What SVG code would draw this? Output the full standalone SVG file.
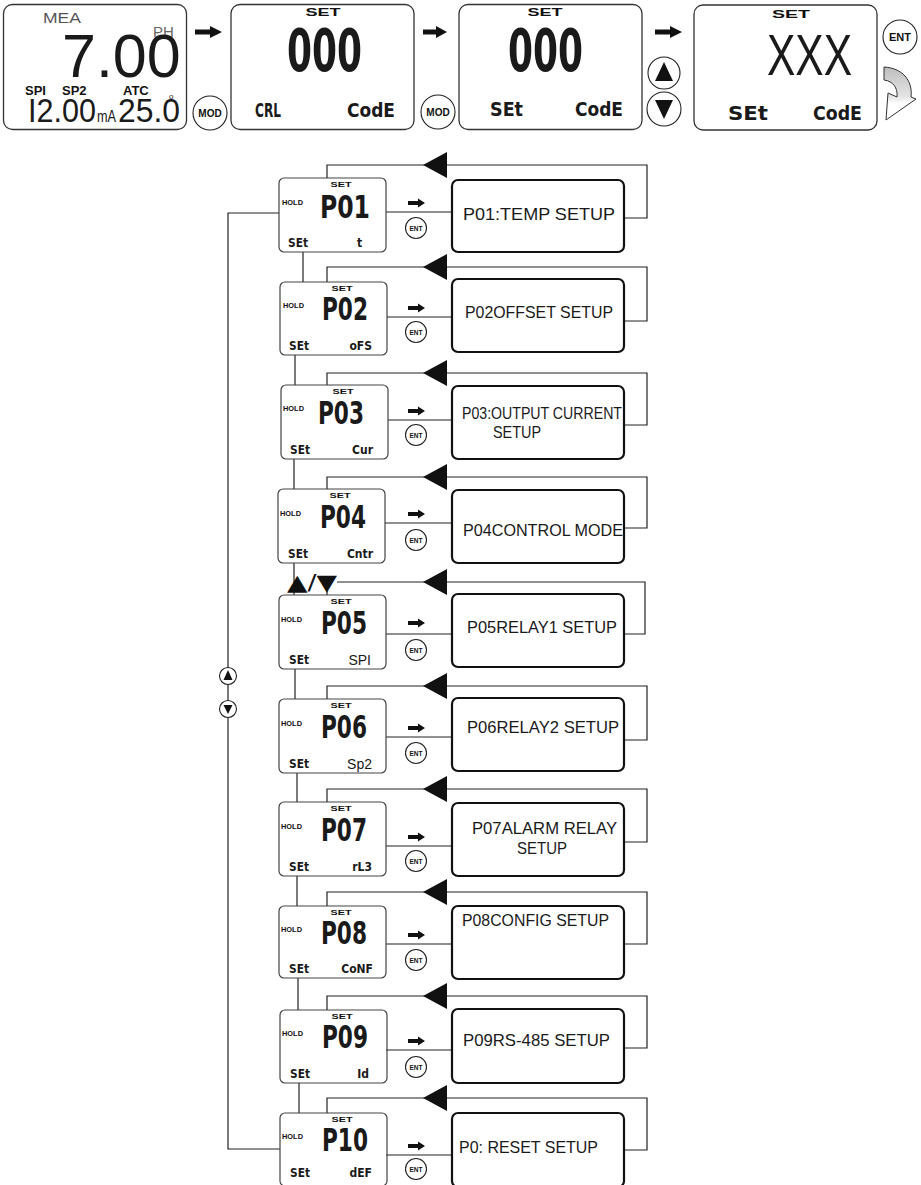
<svg xmlns="http://www.w3.org/2000/svg" width="921" height="1185" viewBox="0 0 921 1185">
<style>
.bg{fill:#fff}
.scr{fill:none;stroke:#333;stroke-width:1.3}
.lcd{fill:none;stroke:#444;stroke-width:1.2}
.box{fill:none;stroke:#111;stroke-width:2.2}
.ln{fill:none;stroke:#222;stroke-width:1.2}
.blk{fill:#111;stroke:none}
.btn{fill:#fff;stroke:#222;stroke-width:1.1}
.seg{font-family:"DejaVu Sans Condensed","DejaVu Sans",sans-serif;font-weight:bold;fill:#1a1a1a}
.sb{font-family:"Liberation Sans",Arial,sans-serif;font-weight:bold;fill:#111}
.sn{font-family:"Liberation Sans",Arial,sans-serif;fill:#1a1a1a}
.sym{font-family:"DejaVu Sans",sans-serif;fill:#111}
</style>
<defs>
<linearGradient id="cg" x1="0" y1="0" x2="0" y2="1">
<stop offset="0" stop-color="#bdbdbd"/><stop offset="0.55" stop-color="#e4e4e4"/><stop offset="0.7" stop-color="#fff"/>
</linearGradient>
</defs>
<rect class="bg" x="0" y="0" width="921" height="1185"/>

<!-- top row -->
<g id="screen-measure">
<rect class="scr" x="3.5" y="4.5" width="183" height="125" rx="9"/>
<text class="sn" x="43" y="23" font-size="15" style="fill:#555" textLength="38" lengthAdjust="spacingAndGlyphs">MEA</text>
<text class="sn" x="153" y="37" font-size="15" style="fill:#666">PH</text>
<text class="sn" x="62" y="77" font-size="61">7.00</text>
<text class="sb" x="25" y="95" font-size="13">SPI</text>
<text class="sb" x="62" y="95" font-size="13">SP2</text>
<text class="sb" x="123" y="95" font-size="13">ATC</text>
<text class="sn" x="28" y="122" font-size="34" textLength="68" lengthAdjust="spacingAndGlyphs">I2.00</text>
<text class="sn" x="97" y="122" font-size="16" textLength="19" lengthAdjust="spacingAndGlyphs">mA</text>
<text class="sn" x="118" y="122" font-size="34" textLength="62" lengthAdjust="spacingAndGlyphs">25.0</text>
<text class="sn" x="169" y="99" font-size="8">o</text>
</g>
<g id="screen-cal">
<rect class="scr" x="231" y="4.5" width="183" height="125" rx="9"/>
<text class="sb" x="323" y="16" font-size="11" text-anchor="middle" textLength="35" lengthAdjust="spacingAndGlyphs">SET</text>
<text class="seg" x="287" y="71" font-size="58" textLength="75" lengthAdjust="spacingAndGlyphs">000</text>
<text class="seg" x="255" y="117" font-size="19" textLength="26" lengthAdjust="spacingAndGlyphs">CRL</text>
<text class="seg" x="347" y="117" font-size="19" textLength="48" lengthAdjust="spacingAndGlyphs">CodE</text>
</g>
<g id="screen-set">
<rect class="scr" x="459" y="4.5" width="183" height="125" rx="9"/>
<text class="sb" x="545" y="16" font-size="11" text-anchor="middle" textLength="35" lengthAdjust="spacingAndGlyphs">SET</text>
<text class="seg" x="508" y="71" font-size="58" textLength="75" lengthAdjust="spacingAndGlyphs">000</text>
<text class="seg" x="490" y="116" font-size="19" textLength="33" lengthAdjust="spacingAndGlyphs">SEt</text>
<text class="seg" x="575" y="116" font-size="19" textLength="48" lengthAdjust="spacingAndGlyphs">CodE</text>
</g>
<g id="screen-code">
<rect class="scr" x="694" y="5" width="183" height="125" rx="9"/>
<text class="sb" x="791" y="18" font-size="11" text-anchor="middle" textLength="38" lengthAdjust="spacingAndGlyphs">SET</text>
<text class="sn" x="767" y="75" font-size="58" textLength="85" lengthAdjust="spacingAndGlyphs">XXX</text>
<text class="seg" x="728" y="120" font-size="19" textLength="40" lengthAdjust="spacingAndGlyphs">SEt</text>
<text class="seg" x="813" y="120" font-size="19" textLength="49" lengthAdjust="spacingAndGlyphs">CodE</text>
</g>
<g id="top-keys">
<path class="blk" d="M195,29.5 H210 V26 L222,32 L210,38 V34.5 H195 Z"/>
<path class="blk" d="M423,29.5 H436 V26 L447,32 L436,38 V34.5 H423 Z"/>
<path class="blk" d="M655,29.5 H670 V26 L682,32 L670,38 V34.5 H655 Z"/>
<circle class="btn" cx="210" cy="113" r="17"/>
<text class="sb" x="210" y="117" font-size="10" text-anchor="middle">MOD</text>
<circle class="btn" cx="438" cy="112" r="17"/>
<text class="sb" x="438" y="116" font-size="10" text-anchor="middle">MOD</text>
<circle class="btn" cx="664" cy="73" r="16"/>
<path class="blk" d="M664,62 L655,81 L673,81 Z"/>
<circle class="btn" cx="664" cy="109" r="17"/>
<path class="blk" d="M655,100 L673,100 L664,119 Z"/>
<circle class="btn" cx="900" cy="37" r="17"/>
<text class="sb" x="900" y="41" font-size="11" text-anchor="middle">ENT</text>
<path d="M884,67 C902,68 913,80 911,97 L916,99 L886,120 L888,93 L897,97 C898,88 893,81 884,80 Z" fill="url(#cg)" stroke="#333" stroke-width="1"/>
</g>

<!-- connectors -->
<g id="connectors">
<path class="ln" d="M279,213 H228 V1149 H280"/>
<path class="ln" d="M303,252 V282 M295,355 V385 M294,459 V489 M294,563 V595 M295,669 V699 M297,773 V802 M297,876 V906 M298,978 V1010 M299,1083 V1113"/>
<path class="ln" d="M386,212 H452 M387,317 H452 M388,420 H452 M385,523 H452 M386,634 H452 M386,737 H452 M386,846 H452 M386,944 H452 M386,1050 H452 M386,1155 H452"/>
<path class="ln" d="M327,178 V165 H647 V218 H624"/>
<path class="ln" d="M327,282 V267 H647 V321 H624"/>
<path class="ln" d="M327,385 V373 H647 V425 H624"/>
<path class="ln" d="M327,489 V477 H647 V528 H624"/>
<path class="ln" d="M327,595 V588 M337,582 H645 V634 H624"/>
<path class="ln" d="M327,699 V686 H647 V740 H624"/>
<path class="ln" d="M327,802 V789 H647 V842 H624"/>
<path class="ln" d="M327,906 V892 H647 V944 H624"/>
<path class="ln" d="M327,1010 V996 H647 V1048 H624"/>
<path class="ln" d="M327,1113 V1098 H647 V1150 H624"/>
<path class="blk" d="M423,165 L447,152 L447,178 Z M423,267 L447,254 L447,280 Z M423,373 L447,360 L447,386 Z M423,477 L447,464 L447,490 Z M423,582 L447,569 L447,595 Z M423,686 L447,673 L447,699 Z M423,789 L447,776 L447,802 Z M423,892 L447,879 L447,905 Z M423,996 L447,983 L447,1009 Z M423,1098 L447,1085 L447,1111 Z"/>
<text class="sym" x="287" y="590" font-size="22" textLength="50" lengthAdjust="spacingAndGlyphs">▲/▼</text>
<circle class="btn" cx="228" cy="676" r="8.5"/>
<path class="blk" d="M228,670 L223.5,680 L232.5,680 Z"/>
<circle class="btn" cx="228" cy="709" r="8.5"/>
<path class="blk" d="M223.5,705 L232.5,705 L228,714 Z"/>
<path class="blk" d="M408,201 h10 v-2.5 l7,4.5 l-7,4.5 v-2.5 h-10 z M408,306 h10 v-2.5 l7,4.5 l-7,4.5 v-2.5 h-10 z M408,409 h10 v-2.5 l7,4.5 l-7,4.5 v-2.5 h-10 z M408,512 h10 v-2.5 l7,4.5 l-7,4.5 v-2.5 h-10 z M408,621 h10 v-2.5 l7,4.5 l-7,4.5 v-2.5 h-10 z M408,726 h10 v-2.5 l7,4.5 l-7,4.5 v-2.5 h-10 z M408,835 h10 v-2.5 l7,4.5 l-7,4.5 v-2.5 h-10 z M408,933 h10 v-2.5 l7,4.5 l-7,4.5 v-2.5 h-10 z M408,1039 h10 v-2.5 l7,4.5 l-7,4.5 v-2.5 h-10 z M408,1144 h10 v-2.5 l7,4.5 l-7,4.5 v-2.5 h-10 z"/>
<g class="btn">
<circle cx="416" cy="228" r="10.5"/><circle cx="416" cy="332" r="10.5"/><circle cx="416" cy="435" r="10.5"/><circle cx="416" cy="540" r="10.5"/><circle cx="416" cy="650" r="10.5"/><circle cx="416" cy="753" r="10.5"/><circle cx="416" cy="861" r="10.5"/><circle cx="416" cy="960" r="10.5"/><circle cx="416" cy="1067" r="10.5"/><circle cx="416" cy="1169" r="10.5"/>
</g>
<g class="sb" font-size="6.5" text-anchor="middle">
<text x="416" y="230.5">ENT</text><text x="416" y="334.5">ENT</text><text x="416" y="437.5">ENT</text><text x="416" y="542.5">ENT</text><text x="416" y="652.5">ENT</text><text x="416" y="755.5">ENT</text><text x="416" y="863.5">ENT</text><text x="416" y="962.5">ENT</text><text x="416" y="1069.5">ENT</text><text x="416" y="1171.5">ENT</text>
</g>
</g>

<!-- menu screens and setup boxes -->
<g id="p01">
<rect class="lcd" x="279" y="178" width="107" height="74" rx="5"/>
<text class="sb" x="341" y="186.5" font-size="7.5" text-anchor="middle" textLength="21" lengthAdjust="spacingAndGlyphs">SET</text>
<text class="sb" x="282" y="205" font-size="8" textLength="21" lengthAdjust="spacingAndGlyphs">HOLD</text>
<text class="seg" x="320" y="218" font-size="32" textLength="50" lengthAdjust="spacingAndGlyphs">P01</text>
<text class="seg" x="288" y="247" font-size="12" textLength="20" lengthAdjust="spacingAndGlyphs">SEt</text>
<text class="seg" x="357" y="247" font-size="12">t</text>
</g>
<g id="p01-box"><rect class="box" x="452" y="180" width="172" height="72" rx="6"/>
<text class="sn" x="463" y="220" font-size="17" textLength="152" lengthAdjust="spacingAndGlyphs">P01:TEMP SETUP</text></g>

<g id="p02">
<rect class="lcd" x="280" y="282" width="107" height="73" rx="5"/>
<text class="sb" x="342" y="290.5" font-size="7.5" text-anchor="middle" textLength="21" lengthAdjust="spacingAndGlyphs">SET</text>
<text class="sb" x="283" y="308" font-size="8" textLength="21" lengthAdjust="spacingAndGlyphs">HOLD</text>
<text class="seg" x="322" y="320" font-size="32" textLength="46" lengthAdjust="spacingAndGlyphs">P02</text>
<text class="seg" x="289" y="350" font-size="12" textLength="20" lengthAdjust="spacingAndGlyphs">SEt</text>
<text class="seg" x="372" y="350" font-size="12" text-anchor="end">oFS</text>
</g>
<g id="p02-box"><rect class="box" x="452" y="279" width="172" height="73" rx="6"/>
<text class="sn" x="465" y="318" font-size="17" textLength="148" lengthAdjust="spacingAndGlyphs">P02OFFSET SETUP</text></g>

<g id="p03">
<rect class="lcd" x="281" y="385" width="107" height="74" rx="5"/>
<text class="sb" x="343" y="393.5" font-size="7.5" text-anchor="middle" textLength="21" lengthAdjust="spacingAndGlyphs">SET</text>
<text class="sb" x="283" y="411" font-size="8" textLength="21" lengthAdjust="spacingAndGlyphs">HOLD</text>
<text class="seg" x="318" y="424" font-size="32" textLength="46" lengthAdjust="spacingAndGlyphs">P03</text>
<text class="seg" x="290" y="454" font-size="12" textLength="20" lengthAdjust="spacingAndGlyphs">SEt</text>
<text class="seg" x="373" y="454" font-size="12" text-anchor="end">Cur</text>
</g>
<g id="p03-box"><rect class="box" x="452" y="386" width="172" height="73" rx="6"/>
<text class="sn" x="462" y="419" font-size="17" textLength="160" lengthAdjust="spacingAndGlyphs">P03:OUTPUT CURRENT</text>
<text class="sn" x="493" y="438" font-size="17" textLength="48" lengthAdjust="spacingAndGlyphs">SETUP</text></g>

<g id="p04">
<rect class="lcd" x="278" y="489" width="107" height="74" rx="5"/>
<text class="sb" x="340" y="497.5" font-size="7.5" text-anchor="middle" textLength="21" lengthAdjust="spacingAndGlyphs">SET</text>
<text class="sb" x="280" y="516" font-size="8" textLength="21" lengthAdjust="spacingAndGlyphs">HOLD</text>
<text class="seg" x="320" y="528" font-size="32" textLength="46" lengthAdjust="spacingAndGlyphs">P04</text>
<text class="seg" x="288" y="558" font-size="12" textLength="20" lengthAdjust="spacingAndGlyphs">SEt</text>
<text class="seg" x="373" y="558" font-size="12" text-anchor="end">Cntr</text>
</g>
<g id="p04-box"><rect class="box" x="452" y="490" width="172" height="73" rx="6"/>
<text class="sn" x="463" y="536" font-size="17" textLength="160" lengthAdjust="spacingAndGlyphs">P04CONTROL MODE</text></g>

<g id="p05">
<rect class="lcd" x="279" y="595" width="107" height="74" rx="5"/>
<text class="sb" x="341" y="603.5" font-size="7.5" text-anchor="middle" textLength="21" lengthAdjust="spacingAndGlyphs">SET</text>
<text class="sb" x="281" y="622" font-size="8" textLength="21" lengthAdjust="spacingAndGlyphs">HOLD</text>
<text class="seg" x="321" y="634" font-size="32" textLength="46" lengthAdjust="spacingAndGlyphs">P05</text>
<text class="seg" x="289" y="664" font-size="12" textLength="20" lengthAdjust="spacingAndGlyphs">SEt</text>
<text class="sn" x="371" y="665" font-size="14" text-anchor="end">SPI</text>
</g>
<g id="p05-box"><rect class="box" x="452" y="594" width="172" height="73" rx="6"/>
<text class="sn" x="467" y="633" font-size="17" textLength="150" lengthAdjust="spacingAndGlyphs">P05RELAY1 SETUP</text></g>

<g id="p06">
<rect class="lcd" x="279" y="699" width="107" height="74" rx="5"/>
<text class="sb" x="341" y="707.5" font-size="7.5" text-anchor="middle" textLength="21" lengthAdjust="spacingAndGlyphs">SET</text>
<text class="sb" x="281" y="726" font-size="8" textLength="21" lengthAdjust="spacingAndGlyphs">HOLD</text>
<text class="seg" x="321" y="738" font-size="32" textLength="46" lengthAdjust="spacingAndGlyphs">P06</text>
<text class="seg" x="289" y="768" font-size="12" textLength="20" lengthAdjust="spacingAndGlyphs">SEt</text>
<text class="sn" x="372" y="769" font-size="14" text-anchor="end">Sp2</text>
</g>
<g id="p06-box"><rect class="box" x="452" y="698" width="172" height="73" rx="6"/>
<text class="sn" x="467" y="733" font-size="17" textLength="152" lengthAdjust="spacingAndGlyphs">P06RELAY2 SETUP</text></g>

<g id="p07">
<rect class="lcd" x="279" y="802" width="107" height="74" rx="5"/>
<text class="sb" x="341" y="810.5" font-size="7.5" text-anchor="middle" textLength="21" lengthAdjust="spacingAndGlyphs">SET</text>
<text class="sb" x="281" y="829" font-size="8" textLength="21" lengthAdjust="spacingAndGlyphs">HOLD</text>
<text class="seg" x="321" y="841" font-size="32" textLength="46" lengthAdjust="spacingAndGlyphs">P07</text>
<text class="seg" x="289" y="871" font-size="12" textLength="20" lengthAdjust="spacingAndGlyphs">SEt</text>
<text class="seg" x="372" y="871" font-size="12" text-anchor="end">rL3</text>
</g>
<g id="p07-box"><rect class="box" x="452" y="803" width="172" height="73" rx="6"/>
<text class="sn" x="472" y="834" font-size="17" textLength="145" lengthAdjust="spacingAndGlyphs">P07ALARM RELAY</text>
<text class="sn" x="517" y="854" font-size="17" textLength="50" lengthAdjust="spacingAndGlyphs">SETUP</text></g>

<g id="p08">
<rect class="lcd" x="279" y="906" width="107" height="72" rx="5"/>
<text class="sb" x="341" y="914.5" font-size="7.5" text-anchor="middle" textLength="21" lengthAdjust="spacingAndGlyphs">SET</text>
<text class="sb" x="281" y="932" font-size="8" textLength="21" lengthAdjust="spacingAndGlyphs">HOLD</text>
<text class="seg" x="321" y="944" font-size="32" textLength="46" lengthAdjust="spacingAndGlyphs">P08</text>
<text class="seg" x="289" y="973" font-size="12" textLength="20" lengthAdjust="spacingAndGlyphs">SEt</text>
<text class="seg" x="373" y="973" font-size="12" text-anchor="end">CoNF</text>
</g>
<g id="p08-box"><rect class="box" x="452" y="906" width="172" height="73" rx="6"/>
<text class="sn" x="462" y="926" font-size="17" textLength="147" lengthAdjust="spacingAndGlyphs">P08CONFIG SETUP</text></g>

<g id="p09">
<rect class="lcd" x="280" y="1010" width="107" height="73" rx="5"/>
<text class="sb" x="342" y="1018.5" font-size="7.5" text-anchor="middle" textLength="21" lengthAdjust="spacingAndGlyphs">SET</text>
<text class="sb" x="282" y="1036" font-size="8" textLength="21" lengthAdjust="spacingAndGlyphs">HOLD</text>
<text class="seg" x="322" y="1048" font-size="32" textLength="46" lengthAdjust="spacingAndGlyphs">P09</text>
<text class="seg" x="290" y="1078" font-size="12" textLength="20" lengthAdjust="spacingAndGlyphs">SEt</text>
<text class="seg" x="369" y="1078" font-size="12" text-anchor="end">Id</text>
</g>
<g id="p09-box"><rect class="box" x="452" y="1009" width="172" height="74" rx="6"/>
<text class="sn" x="463" y="1046" font-size="17" textLength="147" lengthAdjust="spacingAndGlyphs">P09RS-485 SETUP</text></g>

<g id="p10">
<rect class="lcd" x="280" y="1113" width="107" height="73" rx="5"/>
<text class="sb" x="342" y="1121.5" font-size="7.5" text-anchor="middle" textLength="21" lengthAdjust="spacingAndGlyphs">SET</text>
<text class="sb" x="282" y="1139" font-size="8" textLength="21" lengthAdjust="spacingAndGlyphs">HOLD</text>
<text class="seg" x="322" y="1151" font-size="32" textLength="46" lengthAdjust="spacingAndGlyphs">P10</text>
<text class="seg" x="290" y="1177" font-size="12" textLength="20" lengthAdjust="spacingAndGlyphs">SEt</text>
<text class="seg" x="372" y="1177" font-size="12" text-anchor="end">dEF</text>
</g>
<g id="p10-box"><rect class="box" x="452" y="1113" width="172" height="74" rx="6"/>
<text class="sn" x="459" y="1153" font-size="17" textLength="139" lengthAdjust="spacingAndGlyphs">P0: RESET SETUP</text></g>
</svg>
